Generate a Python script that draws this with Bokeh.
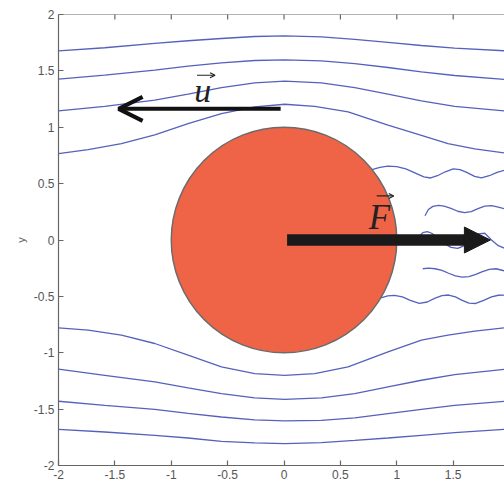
import math
from bokeh.plotting import figure
from bokeh.models import Arrow, NormalHead, OpenHead, FixedTicker, Label, Span
from bokeh.embed import file_html
from bokeh.resources import INLINE
from bokeh.core.properties import value

# ---- tick values / labels ----
TICKS = [-2, -1.5, -1, -0.5, 0, 0.5, 1, 1.5, 2]
TICK_LABELS = ["-2", "-1.5", "-1", "-0.5", "0", "0.5", "1", "1.5", "2"]

# ---- outer streamlines ----
up1_x = [-2.0, -1.59, -1.146, -0.851, -0.555, -0.26, 0.006, 0.331, 0.627, 0.922, 1.218, 1.513, 1.96]
up1_y = [1.678, 1.705, 1.743, 1.767, 1.787, 1.805, 1.811, 1.802, 1.779, 1.752, 1.725, 1.702, 1.678]

up2_x = [-2.0, -1.59, -1.146, -0.851, -0.555, -0.26, 0.006, 0.331, 0.627, 0.922, 1.218, 1.513, 1.96]
up2_y = [1.426, 1.462, 1.506, 1.542, 1.571, 1.592, 1.598, 1.589, 1.565, 1.530, 1.491, 1.459, 1.423]

up3_x = [-2.0, -1.59, -1.146, -0.851, -0.555, -0.26, 0.006, 0.331, 0.627, 0.922, 1.218, 1.513, 1.96]
up3_y = [1.145, 1.186, 1.240, 1.293, 1.352, 1.394, 1.409, 1.394, 1.352, 1.293, 1.234, 1.186, 1.145]

up4_x = [-2.0, -1.737, -1.442, -1.146, -0.851, -0.555, -0.26, 0.006, 0.272, 0.568, 0.922, 1.218, 1.454, 1.691, 1.96]
up4_y = [0.766, 0.802, 0.855, 0.932, 1.033, 1.121, 1.181, 1.204, 1.186, 1.136, 1.018, 0.929, 0.855, 0.808, 0.772]

lo4_x = [-2.0, -1.737, -1.442, -1.146, -0.851, -0.555, -0.26, 0.006, 0.272, 0.568, 0.922, 1.218, 1.454, 1.691, 1.96]
lo4_y = [-0.779, -0.800, -0.844, -0.918, -1.022, -1.125, -1.185, -1.200, -1.185, -1.125, -0.992, -0.889, -0.844, -0.809, -0.779]

lo3_x = [-2.0, -1.59, -1.146, -0.851, -0.555, -0.26, 0.006, 0.331, 0.627, 0.922, 1.218, 1.513, 1.96]
lo3_y = [-1.146, -1.200, -1.259, -1.312, -1.362, -1.401, -1.413, -1.401, -1.362, -1.303, -1.244, -1.194, -1.146]

lo2_x = [-2.0, -1.59, -1.146, -0.851, -0.555, -0.26, 0.006, 0.331, 0.627, 0.922, 1.218, 1.513, 1.96]
lo2_y = [-1.430, -1.466, -1.502, -1.537, -1.570, -1.596, -1.605, -1.599, -1.578, -1.540, -1.502, -1.466, -1.430]

lo1_x = [-2.0, -1.59, -1.146, -0.851, -0.555, -0.26, 0.006, 0.331, 0.627, 0.922, 1.218, 1.513, 1.96]
lo1_y = [-1.679, -1.703, -1.732, -1.756, -1.786, -1.800, -1.806, -1.797, -1.777, -1.756, -1.732, -1.709, -1.679]

# ---- wake lines behind the cylinder ----
wk1_x = [0.78, 0.85, 0.92, 1.00, 1.08, 1.16, 1.24, 1.30, 1.36, 1.43, 1.50, 1.56, 1.62, 1.69, 1.75, 1.82, 1.89, 1.96]
wk1_y = [0.625, 0.645, 0.655, 0.65, 0.63, 0.595, 0.56, 0.55, 0.57, 0.605, 0.63, 0.625, 0.60, 0.565, 0.55, 0.57, 0.60, 0.62]

wk2_x = [1.25, 1.28, 1.32, 1.37, 1.42, 1.48, 1.54, 1.60, 1.66, 1.72, 1.78, 1.84, 1.90, 1.96]
wk2_y = [0.215, 0.27, 0.298, 0.307, 0.30, 0.28, 0.255, 0.243, 0.252, 0.278, 0.30, 0.305, 0.292, 0.275]

wk3_x = [1.19, 1.23, 1.27, 1.31, 1.36, 1.42, 1.48, 1.54, 1.60, 1.66, 1.72, 1.78, 1.84, 1.90, 1.96]
wk3_y = [0.02, 0.065, 0.075, 0.06, 0.02, -0.03, -0.065, -0.075, -0.05, 0.0, 0.055, 0.06, 0.0, -0.05, -0.075]

wk4_x = [1.23, 1.28, 1.34, 1.40, 1.46, 1.52, 1.58, 1.64, 1.70, 1.76, 1.82, 1.88, 1.96]
wk4_y = [-0.255, -0.25, -0.255, -0.27, -0.295, -0.318, -0.33, -0.325, -0.305, -0.28, -0.26, -0.255, -0.275]

wk5_x = [0.85, 0.92, 0.98, 1.05, 1.12, 1.20, 1.27, 1.34, 1.40, 1.46, 1.52, 1.58, 1.64, 1.70, 1.77, 1.84, 1.90, 1.96]
wk5_y = [-0.515, -0.495, -0.492, -0.505, -0.535, -0.563, -0.55, -0.515, -0.493, -0.488, -0.505, -0.535, -0.56, -0.563, -0.535, -0.505, -0.49, -0.488]

# ---- cylinder ----
cyl_x = [0.0]
cyl_y = [0.0]
cyl_r = [1.0]

stream_xs = [up1_x, up2_x, up3_x, up4_x, lo4_x, lo3_x, lo2_x, lo1_x]
stream_ys = [up1_y, up2_y, up3_y, up4_y, lo4_y, lo3_y, lo2_y, lo1_y]
wake_xs = [wk1_x, wk2_x, wk3_x, wk4_x, wk5_x]
wake_ys = [wk1_y, wk2_y, wk3_y, wk4_y, wk5_y]

AX_COLOR = "#666666"
LBL_COLOR = "#555555"
LINE_COLOR = "#5561bd"

X_MIN, X_MAX, Y_MIN, Y_MAX = -2, 1.955, -2, 2

p = figure(width=504, height=495, x_range=(X_MIN, X_MAX), y_range=(Y_MIN, Y_MAX),
           output_backend="svg", toolbar_location=None,
           min_border_left=58, min_border_right=0, min_border_top=14, min_border_bottom=30)
p.outline_line_color = None
p.xgrid.visible = False
p.ygrid.visible = False
p.background_fill_color = "white"
p.border_fill_color = "white"


def style_axis(ax):
    ax.ticker = FixedTicker(ticks=TICKS)
    ax.major_label_overrides = {t: l for t, l in zip(TICKS, TICK_LABELS)}
    ax.major_tick_in = 5
    ax.major_tick_out = 0
    ax.minor_tick_in = 0
    ax.minor_tick_out = 0
    ax.axis_line_color = AX_COLOR
    ax.axis_line_width = 1.2
    ax.major_tick_line_color = AX_COLOR
    ax.major_tick_line_width = 1.2
    ax.major_label_text_color = LBL_COLOR
    ax.major_label_text_font = "Liberation Sans"
    ax.major_label_text_font_size = "12px"
    ax.major_label_standoff = 4


style_axis(p.xaxis[0])
style_axis(p.yaxis[0])
p.yaxis[0].axis_label = "y"
p.yaxis[0].axis_label_text_font = "Liberation Sans"
p.yaxis[0].axis_label_text_font_style = "normal"
p.yaxis[0].axis_label_text_font_size = "11px"
p.yaxis[0].axis_label_text_color = LBL_COLOR
p.yaxis[0].axis_label_standoff = 4

# top box edge with inward ticks (half of each vertical dash is clipped by the frame)
p.add_layout(Span(location=Y_MAX, dimension="width", line_color=AX_COLOR, line_width=1.2))
top_ticks = [t for t in TICKS if X_MIN < t < X_MAX]
p.scatter(x=top_ticks, y=[Y_MAX] * len(top_ticks), marker="dash", angle=math.pi / 2,
          size=10, line_color=AX_COLOR, line_width=1.2)

# streamlines and wake
p.multi_line(xs=stream_xs, ys=stream_ys, line_color=LINE_COLOR, line_width=1.3)
p.multi_line(xs=wake_xs, ys=wake_ys, line_color=LINE_COLOR, line_width=1.3)

# cylinder
p.ellipse(x=cyl_x, y=cyl_y, width=[2 * r for r in cyl_r], height=[2 * r for r in cyl_r],
          fill_color="#ef6447", line_color="#6b6b6b", line_width=1.5)

# velocity arrow u
p.add_layout(Arrow(end=OpenHead(size=24, line_width=4, line_color="#111111"),
                   x_start=-0.03, y_start=1.163, x_end=-1.467, y_end=1.163,
                   line_width=4, line_color="#111111"))

# force arrow F
p.segment(x0=[0.027], y0=[0.0], x1=[1.62], y1=[0.0], line_width=11.5, line_color="#1a1a1a")
p.add_layout(Arrow(end=NormalHead(size=26, fill_color="#1a1a1a", line_color="#1a1a1a", line_width=1),
                   x_start=1.55, y_start=0.0, x_end=1.83, y_end=0.0,
                   line_width=1, line_color="#1a1a1a", line_alpha=0))

# letters with vector arrows
p.text(x=[-0.721], y=[1.323], text=["u"], text_font=value("Liberation Serif"),
       text_font_style="italic", text_font_size="34px", text_align="center",
       text_baseline="alphabetic", text_color="#222222")
p.add_layout(Arrow(end=OpenHead(size=5, line_width=1.2, line_color="#222222"),
                   x_start=-0.772, y_start=1.461, x_end=-0.612, y_end=1.461,
                   line_width=1.2, line_color="#222222"))

p.text(x=[0.847], y=[0.198], text=["F"], text_font=value("Liberation Serif"),
       text_font_style="italic", text_font_size="35px", text_align="center",
       text_baseline="alphabetic", text_color="#222222")
p.add_layout(Arrow(end=OpenHead(size=5, line_width=1.2, line_color="#222222"),
                   x_start=0.822, y_start=0.391, x_end=0.973, y_end=0.391,
                   line_width=1.2, line_color="#222222"))

# x axis label at the bottom edge, as in the reference
p.add_layout(Label(x=0, y=-29, x_units="data", y_units="screen", text="x",
                   text_align="center", text_baseline="bottom",
                   text_font="Liberation Sans", text_font_size="11px",
                   text_color=LBL_COLOR))

open("out.html", "w").write(file_html(p, INLINE))
